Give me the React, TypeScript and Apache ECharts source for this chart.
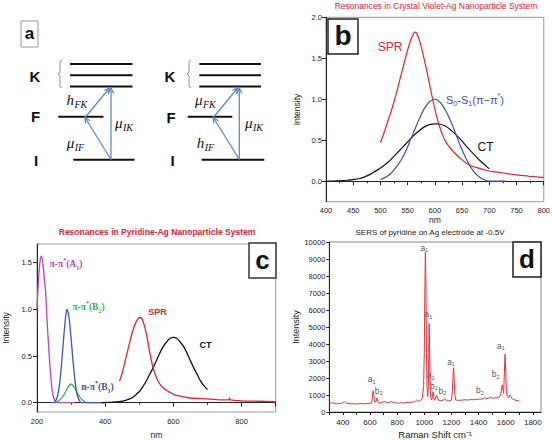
import React, { useEffect, useRef } from "react";
import * as echarts from "echarts";

// ---------- Panel b: Crystal Violet-Ag ----------
const bSPR: [number, number][] = [[500,0.47],[505,0.56],[510,0.66],[515,0.76],[520,0.86],[525,0.97],[530,1.09],[535,1.22],[540,1.35],[545,1.48],[550,1.6],[555,1.71],[560,1.79],[563,1.82],[566,1.81],[570,1.75],[575,1.64],[580,1.5],[585,1.35],[590,1.19],[595,1.03],[600,0.88],[605,0.75],[610,0.64],[615,0.55],[620,0.48],[630,0.39],[640,0.32],[650,0.26],[660,0.21],[670,0.18],[680,0.16],[690,0.14],[700,0.125],[710,0.115],[720,0.105],[730,0.095],[740,0.085],[750,0.078],[760,0.07],[770,0.065],[775,0.055],[780,0.06],[790,0.05],[800,0.045]];
const bS0S1: [number, number][] = [[500,0.02],[510,0.05],[520,0.1],[530,0.18],[540,0.28],[550,0.42],[556,0.52],[560,0.58],[570,0.74],[580,0.88],[590,0.97],[600,1.0],[610,0.96],[620,0.86],[630,0.72],[640,0.55],[650,0.38],[660,0.24],[670,0.13],[680,0.06],[690,0.02],[700,0.0],[730,0.0]];
const bCT: [number, number][] = [[400,0.0],[420,0.005],[440,0.012],[450,0.02],[460,0.03],[470,0.05],[480,0.08],[490,0.12],[500,0.16],[510,0.21],[520,0.27],[530,0.34],[540,0.41],[550,0.48],[560,0.55],[570,0.61],[580,0.66],[590,0.69],[600,0.70],[610,0.695],[620,0.67],[630,0.62],[640,0.56],[650,0.49],[660,0.41],[670,0.34],[680,0.27],[690,0.21],[700,0.15]];
const bYTicks = [0, 0.5, 1.0, 1.5, 2.0];

// ---------- Panel c: Pyridine-Ag ----------
const cA1: [number, number][] = [[200,1.0],[205,1.35],[209,1.52],[213,1.57],[217,1.5],[221,1.35],[225,1.2],[230,0.85],[235,0.55],[240,0.3],[245,0.12],[250,0.04],[255,0.01],[260,0.0],[310,0.0]];
const cB1: [number, number][] = [[240,0.0],[250,0.0],[255,0.02],[260,0.07],[265,0.17],[270,0.33],[275,0.55],[280,0.77],[285,0.95],[288,1.0],[291,0.97],[295,0.88],[300,0.69],[305,0.47],[310,0.28],[315,0.14],[320,0.06],[325,0.02],[330,0.0],[395,0.0]];
const cB2: [number, number][] = [[250,0.0],[260,0.01],[270,0.04],[280,0.09],[290,0.16],[300,0.2],[310,0.16],[320,0.09],[330,0.04],[340,0.01],[350,0.0],[400,0.0]];
const cSPR: [number, number][] = [[442,0.23],[450,0.32],[460,0.47],[470,0.62],[480,0.76],[490,0.86],[500,0.91],[505,0.91],[510,0.88],[520,0.75],[530,0.55],[540,0.38],[550,0.27],[560,0.2],[570,0.16],[580,0.13],[590,0.11],[600,0.09],[620,0.07],[650,0.05],[700,0.04],[750,0.03],[763,0.03],[765,0.05],[767,0.03],[800,0.02],[850,0.015],[900,0.01]];
const cCT: [number, number][] = [[390,0.0],[420,0.005],[440,0.01],[460,0.025],[480,0.055],[500,0.12],[510,0.17],[520,0.23],[530,0.3],[540,0.37],[550,0.45],[560,0.53],[570,0.6],[580,0.65],[590,0.69],[600,0.7],[610,0.69],[620,0.65],[630,0.6],[640,0.53],[650,0.45],[660,0.37],[670,0.3],[680,0.23],[690,0.18],[700,0.14]];
const cYTicks = [0, 0.5, 1.0, 1.5];

// ---------- Panel d: SERS of pyridine ----------
const dSpectrum: [number, number][] = [[300,560],[310,540],[320,520],[330,530],[340,500],[350,480],[360,510],[370,490],[380,500],[390,520],[400,540],[410,620],[415,580],[420,540],[440,500],[460,480],[480,490],[500,470],[520,490],[540,500],[560,480],[580,500],[600,510],[610,520],[615,700],[620,1100],[624,1250],[628,1000],[632,650],[640,560],[648,700],[652,820],[656,650],[665,540],[680,530],[700,600],[710,620],[720,560],[740,540],[750,600],[760,620],[770,560],[790,540],[810,520],[830,550],[850,530],[870,560],[890,550],[910,580],[930,600],[940,680],[945,720],[950,650],[960,620],[975,700],[985,800],[995,1500],[1000,3500],[1004,7000],[1008,9400],[1012,7500],[1016,3500],[1020,1500],[1025,900],[1030,1500],[1033,3500],[1036,5200],[1039,3800],[1043,1500],[1048,800],[1055,700],[1060,900],[1065,1200],[1069,900],[1075,700],[1082,750],[1088,950],[1092,1000],[1096,850],[1105,700],[1120,660],[1140,700],[1150,780],[1158,720],[1170,650],[1190,660],[1200,700],[1207,1200],[1212,2200],[1216,2600],[1220,2000],[1225,1000],[1232,720],[1245,680],[1260,690],[1280,700],[1300,720],[1320,700],[1340,730],[1360,720],[1380,740],[1400,750],[1420,760],[1435,780],[1445,850],[1455,790],[1470,800],[1482,880],[1492,820],[1510,820],[1530,840],[1550,870],[1563,1000],[1570,1400],[1575,1600],[1580,1300],[1585,1100],[1590,2300],[1595,3400],[1600,2400],[1605,1200],[1612,900],[1620,850],[1630,1000],[1638,900],[1650,760],[1670,700],[1690,660],[1700,640]];
const dPeakLabels: [number, number, string, string][] = [[612,1920,"a","1"],[664,1240,"b","2"],[1000,9670,"a","1"],[1030,5760,"a","1"],[1047,2170,"a","1"],[1071,1540,"b","2"],[1133,1240,"b","2"],[1197,2960,"a","1"],[1410,1280,"b","2"],[1526,2230,"b","2"],[1565,3890,"a","1"]];
const dXLabels = [400, 600, 800, 1000, 1200, 1400, 1600, 1800];
const dXTicks = [300,400,500,600,700,800,900,1000,1100,1200,1300,1400,1500,1600,1700,1800];

const SANS = '"Liberation Sans", Arial, sans-serif';
const SERIF = '"Liberation Serif", "Times New Roman", serif';
const RED = "#e2252c";
const BLUE = "#3953b5";
const ARROW = "#5b8bd0";

function arrow(x1: number, y1: number, x2: number, y2: number): any[] {
  const ang = Math.atan2(y2 - y1, x2 - x1);
  const L = 6, a = 0.45;
  const p1 = [x2 - L * Math.cos(ang - a), y2 - L * Math.sin(ang - a)];
  const p2 = [x2 - L * Math.cos(ang + a), y2 - L * Math.sin(ang + a)];
  return [
    { type: "line", shape: { x1, y1, x2, y2 }, style: { stroke: ARROW, lineWidth: 1.3 } },
    { type: "polyline", shape: { points: [p1, [x2, y2], p2] }, style: { stroke: ARROW, lineWidth: 1.3, fill: null } },
  ];
}

function subLabel(x: number, y: number, base: string, sub: string): any[] {
  return [
    { type: "text", x, y, style: { text: base, fontFamily: SERIF, fontStyle: "italic", fontSize: 15, fill: "#111", verticalAlign: "middle", align: "left" } },
    { type: "text", x: x + 8, y: y + 4.5, style: { text: sub, fontFamily: SERIF, fontStyle: "italic", fontSize: 10, fill: "#111", verticalAlign: "middle", align: "left" } },
  ];
}

function hline(x1: number, x2: number, y: number): any {
  return { type: "line", shape: { x1, y1: y, x2, y2: y }, style: { stroke: "#111", lineWidth: 2 } };
}

function bracket(x: number, y1: number, y2: number): any {
  const m = (y1 + y2) / 2;
  return { type: "polyline", shape: { points: [[x + 2, y1], [x, y1 + 1.5], [x, m - 1.5], [x - 2, m], [x, m + 1.5], [x, y2 - 1.5], [x + 2, y2]] }, style: { stroke: "#777", lineWidth: 0.8, fill: null } };
}

function bigLetter(text: string, x: number, y: number): any {
  return { type: "text", x, y, style: { text, fontFamily: SANS, fontWeight: "bold", fontSize: 15, fill: "#111", align: "center", verticalAlign: "middle" } };
}

function panelBox(x: number, y: number, w: number, h: number, letter: string, size: number, stroke: string, lw: number): any[] {
  return [
    { type: "rect", shape: { x, y, width: w, height: h }, style: { fill: "#fff", stroke, lineWidth: lw }, z: 100 },
    { type: "text", x: x + w / 2, y: y + h / 2 - 1, z: 101, style: { text: letter, fontFamily: SANS, fontWeight: "bold", fontSize: size, fill: "#111", align: "center", verticalAlign: "middle" } },
  ];
}

function richText(x: number, y: number, text: string, color: string, size: number, family: string, weight: string): any {
  return {
    type: "text", x, y, z: 50,
    style: {
      text, fill: color, align: "center", verticalAlign: "middle",
      rich: {
        m: { fontSize: size, fontFamily: family, fontWeight: weight, fill: color, lineHeight: size + 4 },
        s: { fontSize: size * 0.65, fontFamily: family, fontWeight: weight, fill: color, lineHeight: size * 0.7, verticalAlign: "bottom" },
        p: { fontSize: size * 0.65, fontFamily: family, fontWeight: weight, fill: color, lineHeight: size * 0.7, verticalAlign: "top" },
      },
    },
  };
}

function plainText(x: number, y: number, text: string, color: string, size: number, weight = "normal", family = SANS): any {
  return { type: "text", x, y, z: 50, style: { text, fill: color, fontSize: size, fontWeight: weight, fontFamily: family, align: "center", verticalAlign: "middle" } };
}

const axisLineStyle = { lineStyle: { color: "#222", width: 1 } };
const labelStyle = { fontSize: 7.5, color: "#222", fontFamily: SANS };
const plainNum = (v: number) => String(v);

function buildOption(): any {
  const graphic: any[] = [
    // Panel a
    ...panelBox(21, 21, 17, 26, "a", 17, "#999", 1),
    bigLetter("K", 35, 76), bigLetter("F", 35.5, 116.5), bigLetter("I", 36, 160),
    hline(70, 132.5, 64), hline(70, 132.5, 75.3), hline(70, 132.5, 86.5),
    bracket(60, 60, 88),
    hline(58.3, 103.5, 116.7),
    hline(73.3, 134.5, 159.7),
    ...arrow(111, 159.5, 85, 117.5),
    ...arrow(85, 117.5, 109.5, 88),
    ...arrow(111, 159.5, 111, 88),
    ...subLabel(66.5, 100, "h", "FK"),
    ...subLabel(115, 122.5, "μ", "IK"),
    ...subLabel(66.7, 142.5, "μ", "IF"),

    bigLetter("K", 170, 76), bigLetter("F", 171, 117), bigLetter("I", 172.5, 160),
    hline(199.3, 261, 64), hline(199.3, 261, 75.3), hline(199.3, 261, 86.5),
    bracket(189, 60, 88),
    hline(187.7, 232.3, 116.7),
    hline(201.7, 264.3, 159.7),
    ...arrow(239.3, 159.5, 213.3, 117.5),
    ...arrow(213.3, 117.5, 237.7, 88),
    ...arrow(239.3, 159.5, 239.3, 88),
    ...subLabel(195, 100, "μ", "FK"),
    ...subLabel(245, 122.5, "μ", "IK"),
    ...subLabel(196.7, 142.5, "h", "IF"),

    // Panel b
    plainText(436, 6, "Resonances in Crystal Violet-Ag Nanoparticle System", RED, 8.5),
    ...panelBox(328, 19, 30, 35, "b", 28, "#222", 1.5),
    plainText(390, 47, "SPR", RED, 12),
    richText(475, 100, "{m|S}{s|0}{m|-S}{s|1}{m|(π−π}{p|*}{m|)}", BLUE, 11, SANS, "normal"),
    plainText(485.5, 147, "CT", "#111", 12),

    // Panel c
    plainText(157, 231.5, "Resonances in Pyridine-Ag Nanoparticle System", RED, 8.5, "bold"),
    ...panelBox(249, 243, 27, 35, "c", 26, "#333", 1.5),
    richText(66, 264, "{m|π-π}{p|*}{m|(A}{s|1}{m|)}", "#c040c0", 9.5, SERIF, "bold"),
    richText(88.5, 307, "{m|π-π}{p|*}{m|(B}{s|2}{m|)}", "#2db34a", 9.5, SERIF, "bold"),
    richText(97.5, 387, "{m|n-π}{p|*}{m|(B}{s|1}{m|)}", BLUE, 9.5, SERIF, "bold"),
    plainText(157.5, 312, "SPR", RED, 9, "bold"),
    plainText(205.5, 345, "CT", "#111", 9, "bold"),

    // Panel d
    plainText(430, 232, "SERS of pyridine on Ag electrode at -0.5V", "#222", 8),
    ...panelBox(513, 242, 28, 35, "d", 26, "#222", 1.5),
  ];

  const lineSeries = (data: [number, number][], color: string, idx: number, width = 1.2) => ({
    type: "line", data, xAxisIndex: idx, yAxisIndex: idx, showSymbol: false, smooth: 0.3,
    lineStyle: { color, width }, itemStyle: { color }, silent: true,
  });

  return {
    animation: false,
    backgroundColor: "#fff",
    textStyle: { fontFamily: SANS },
    grid: [
      { left: 326, top: 17.3, width: 219.7, height: 184.4, show: true, borderColor: "#999", borderWidth: 1 },
      { left: 36.7, top: 244, width: 239, height: 168.7, show: true, borderColor: "#999", borderWidth: 1 },
      { left: 329.3, top: 242, width: 211.7, height: 170, show: true, borderColor: "#888", borderWidth: 1 },
    ],
    xAxis: [
      {
        gridIndex: 0, type: "value", min: 400, max: 800, interval: 50,
        axisLine: axisLineStyle, axisTick: { length: 4, lineStyle: { color: "#222" } },
        minorTick: { show: true, splitNumber: 2, length: 2, lineStyle: { color: "#222" } },
        splitLine: { show: false }, axisLabel: { ...labelStyle, margin: 5, formatter: plainNum },
        name: "nm", nameLocation: "middle", nameGap: 13, nameTextStyle: { fontSize: 8.5, color: "#222" },
      },
      {
        gridIndex: 1, type: "value", min: 200, max: 900, interval: 200,
        axisLine: axisLineStyle, axisTick: { length: 4, lineStyle: { color: "#222" } },
        minorTick: { show: true, splitNumber: 2, length: 2, lineStyle: { color: "#222" } },
        splitLine: { show: false }, axisLabel: { ...labelStyle, margin: 5, showMaxLabel: false, formatter: plainNum },
        name: "nm", nameLocation: "middle", nameGap: 18, nameTextStyle: { fontSize: 8.5, color: "#222" },
      },
      {
        gridIndex: 2, type: "value", min: 300, max: 1860,
        axisLine: axisLineStyle,
        axisTick: { length: 3, customValues: dXTicks, lineStyle: { color: "#222" } },
        splitLine: { show: false },
        axisLabel: { ...labelStyle, fontSize: 8, margin: 6, customValues: dXLabels, formatter: plainNum },
        name: "Raman Shift cm⁻¹", nameLocation: "middle", nameGap: 17, nameTextStyle: { fontSize: 9.5, color: "#222" },
      },
    ],
    yAxis: [
      {
        gridIndex: 0, type: "value", min: -0.25, max: 2,
        axisLine: { show: true, ...axisLineStyle }, axisTick: { show: true, length: 4, customValues: bYTicks, lineStyle: { color: "#222" } },
        splitLine: { show: false },
        axisLabel: { ...labelStyle, margin: 4, customValues: bYTicks, formatter: (v: number) => v.toFixed(1) },
        name: "Intensity", nameLocation: "middle", nameGap: 25, nameRotate: 90, nameTextStyle: { fontSize: 8.5, color: "#222" },
      },
      {
        gridIndex: 1, type: "value", min: -0.1, max: 1.7,
        axisLine: { show: true, ...axisLineStyle }, axisTick: { show: true, length: 4, customValues: cYTicks, lineStyle: { color: "#222" } },
        splitLine: { show: false },
        axisLabel: { ...labelStyle, margin: 5, customValues: cYTicks, formatter: (v: number) => v.toFixed(1) },
        name: "Intensity", nameLocation: "middle", nameGap: 27, nameRotate: 90, nameTextStyle: { fontSize: 8.5, color: "#222" },
      },
      {
        gridIndex: 2, type: "value", min: 0, max: 10000, interval: 1000,
        axisLine: { show: true, ...axisLineStyle }, axisTick: { show: true, length: 3, lineStyle: { color: "#222" } },
        splitLine: { show: false },
        axisLabel: { ...labelStyle, margin: 4, formatter: plainNum },
        name: "Intensity", nameLocation: "middle", nameGap: 28, nameRotate: 90, nameTextStyle: { fontSize: 9, color: "#222" },
      },
    ],
    series: [
      lineSeries(bCT, "#111", 0),
      lineSeries(bS0S1, BLUE, 0),
      lineSeries(bSPR, RED, 0),
      lineSeries(cA1, "#c040c0", 1, 1.3),
      lineSeries(cB2, "#2db34a", 1, 1.3),
      lineSeries(cB1, BLUE, 1, 1.3),
      lineSeries(cCT, "#111", 1, 1.3),
      lineSeries(cSPR, RED, 1, 1.3),
      {
        type: "line", data: dSpectrum, xAxisIndex: 2, yAxisIndex: 2, showSymbol: false,
        lineStyle: { color: "#e0323c", width: 1 }, silent: true,
      },
      {
        type: "scatter", xAxisIndex: 2, yAxisIndex: 2, symbolSize: 0, silent: true,
        data: dPeakLabels.map(([x, y, b, s]) => ({ value: [x, y], name: b + s })),
        label: {
          show: true, position: "inside", color: "#222",
          formatter: (p: any) => `{m|${p.name[0]}}{s|${p.name.slice(1)}}`,
          rich: {
            m: { fontSize: 8.5, color: "#222", lineHeight: 11, fontFamily: SANS },
            s: { fontSize: 5.5, color: "#222", lineHeight: 6, verticalAlign: "bottom", fontFamily: SANS },
          },
        },
      },
    ],
    graphic,
  };
}

export default function App() {
  const ref = useRef<HTMLDivElement>(null);
  useEffect(() => {
    const chart = echarts.init(ref.current!, null, { renderer: "svg" });
    chart.setOption(buildOption());
    return () => chart.dispose();
  }, []);
  return <div ref={ref} style={{ position: "absolute", left: 0, top: 0, width: 553, height: 440, background: "#fff" }} />;
}
